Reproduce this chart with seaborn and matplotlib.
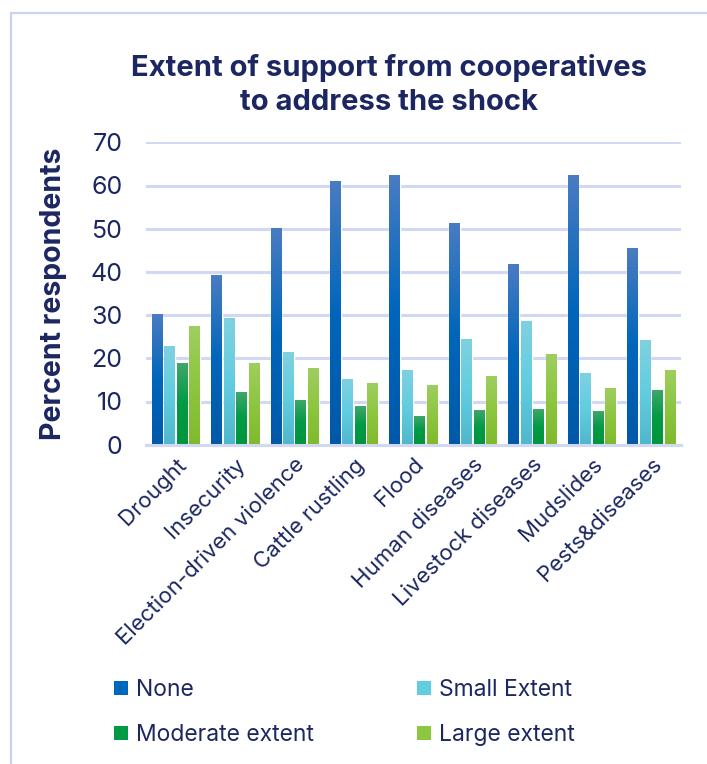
import numpy as np
import pandas as pd
import matplotlib
matplotlib.use("Agg")
import matplotlib.pyplot as plt
import seaborn as sns
from matplotlib.colors import LinearSegmentedColormap
from matplotlib.patches import Patch
from matplotlib.lines import Line2D

categories = ["Drought", "Insecurity", "Election-driven violence", "Cattle rustling",
              "Flood", "Human diseases", "Livestock diseases", "Mudslides", "Pests&diseases"]
series_names = ["None", "Small Extent", "Moderate extent", "Large extent"]
none_vals = [30.3, 39.3, 50.2, 61.0, 62.4, 51.3, 41.8, 62.4, 45.5]
small_vals = [22.8, 29.3, 21.5, 15.2, 17.3, 24.4, 28.6, 16.6, 24.2]
moderate_vals = [18.9, 12.2, 10.3, 9.0, 6.6, 8.0, 8.2, 7.8, 12.6]
large_vals = [27.5, 18.9, 17.8, 14.3, 13.7, 15.9, 21.0, 13.1, 17.3]
yticks = [0, 10, 20, 30, 40, 50, 60, 70]

title = "Extent of support from cooperatives\nto address the shock"
ylabel = "Percent respondents"

grad_colors = {
    "None": ["#4a7cc2", "#0066bb", "#0058a8"],
    "Small Extent": ["#7fd1e0", "#62cde0", "#4fb7cb"],
    "Moderate extent": ["#3fa76a", "#009a45", "#00953f"],
    "Large extent": ["#9fce60", "#8dc63f", "#7fba2c"],
}
solid = {k: v[1] for k, v in grad_colors.items()}
text_color = "#1c2762"
grid_color = "#d0d8f4"

rows = []
for name, vals in zip(series_names, [none_vals, small_vals, moderate_vals, large_vals]):
    for c, v in zip(categories, vals):
        rows.append({"category": c, "series": name, "value": v})
df = pd.DataFrame(rows)

sns.set_theme(style="white")
plt.rcParams["font.family"] = ["Inter", "DejaVu Sans"]

fig = plt.figure(figsize=(7.07, 7.64), dpi=100)
ax = fig.add_axes([146 / 707, 1 - 444.7 / 764, (681 - 146) / 707, (444.7 - 142.3) / 764])

sns.barplot(data=df, x="category", y="value", hue="series", order=categories,
            hue_order=series_names, palette=solid, width=0.84, gap=0.14,
            legend=False, ax=ax, saturation=1)

# gradient fill per bar
grad = np.linspace(0, 1, 256).reshape(-1, 1)
for cont, name in zip(ax.containers, series_names):
    cmap = LinearSegmentedColormap.from_list(name, grad_colors[name][::-1])
    for bar in cont:
        x, w, h = bar.get_x(), bar.get_width(), bar.get_height()
        ax.imshow(grad, cmap=cmap, extent=[x, x + w, 0, h], origin="lower",
                  aspect="auto", zorder=bar.get_zorder() + 0.1, interpolation="bicubic")

ax.set_xlim(-0.5, len(categories) - 0.5)
ax.set_ylim(0, 70)
ax.set_yticks(yticks)
ax.yaxis.grid(True, color=grid_color, linewidth=2.2)
ax.set_axisbelow(True)
for s in ["top", "right", "left"]:
    ax.spines[s].set_visible(False)
ax.spines["bottom"].set_color(grid_color)
ax.spines["bottom"].set_linewidth(2.2)
ax.tick_params(axis="y", length=0, pad=17, labelsize=18, labelcolor=text_color)
ax.tick_params(axis="x", length=0, pad=7, labelsize=16, labelcolor=text_color)
ax.set_xlabel("")
ax.set_ylabel(ylabel, fontsize=20.5, fontweight="bold", color=text_color, labelpad=17)
for lbl in ax.get_xticklabels():
    lbl.set_rotation(45)
    lbl.set_ha("right")
    lbl.set_va("top")
    lbl.set_rotation_mode("anchor")

fig.text(0.55, 1 - 85 / 764, title, ha="center", va="center", fontsize=21,
         fontweight="bold", color=text_color, linespacing=1.3)

handles = [Patch(facecolor=solid[n], edgecolor="none") for n in
           ["None", "Moderate extent", "Small Extent", "Large extent"]]
labels = ["None", "Moderate extent", "Small Extent", "Large extent"]
leg = fig.legend(handles, labels, ncol=2, loc="upper left",
                 bbox_to_anchor=(105 / 707, 1 - 670 / 764), frameon=False,
                 fontsize=16.5, handlelength=0.6, handleheight=0.6, handletextpad=0.35,
                 columnspacing=4.5, labelspacing=1.0, borderaxespad=0)
for t in leg.get_texts():
    t.set_color(text_color)

# outer frame lines (left and top)
fig.add_artist(Line2D([11 / 707, 11 / 707], [0, 1 - 13 / 764], transform=fig.transFigure,
                      color="#c9d2f2", linewidth=1.6))
fig.add_artist(Line2D([11 / 707, 1], [1 - 13 / 764, 1 - 13 / 764], transform=fig.transFigure,
                      color="#c9d2f2", linewidth=1.6))

fig.savefig("out.png", dpi=100, facecolor="white")
